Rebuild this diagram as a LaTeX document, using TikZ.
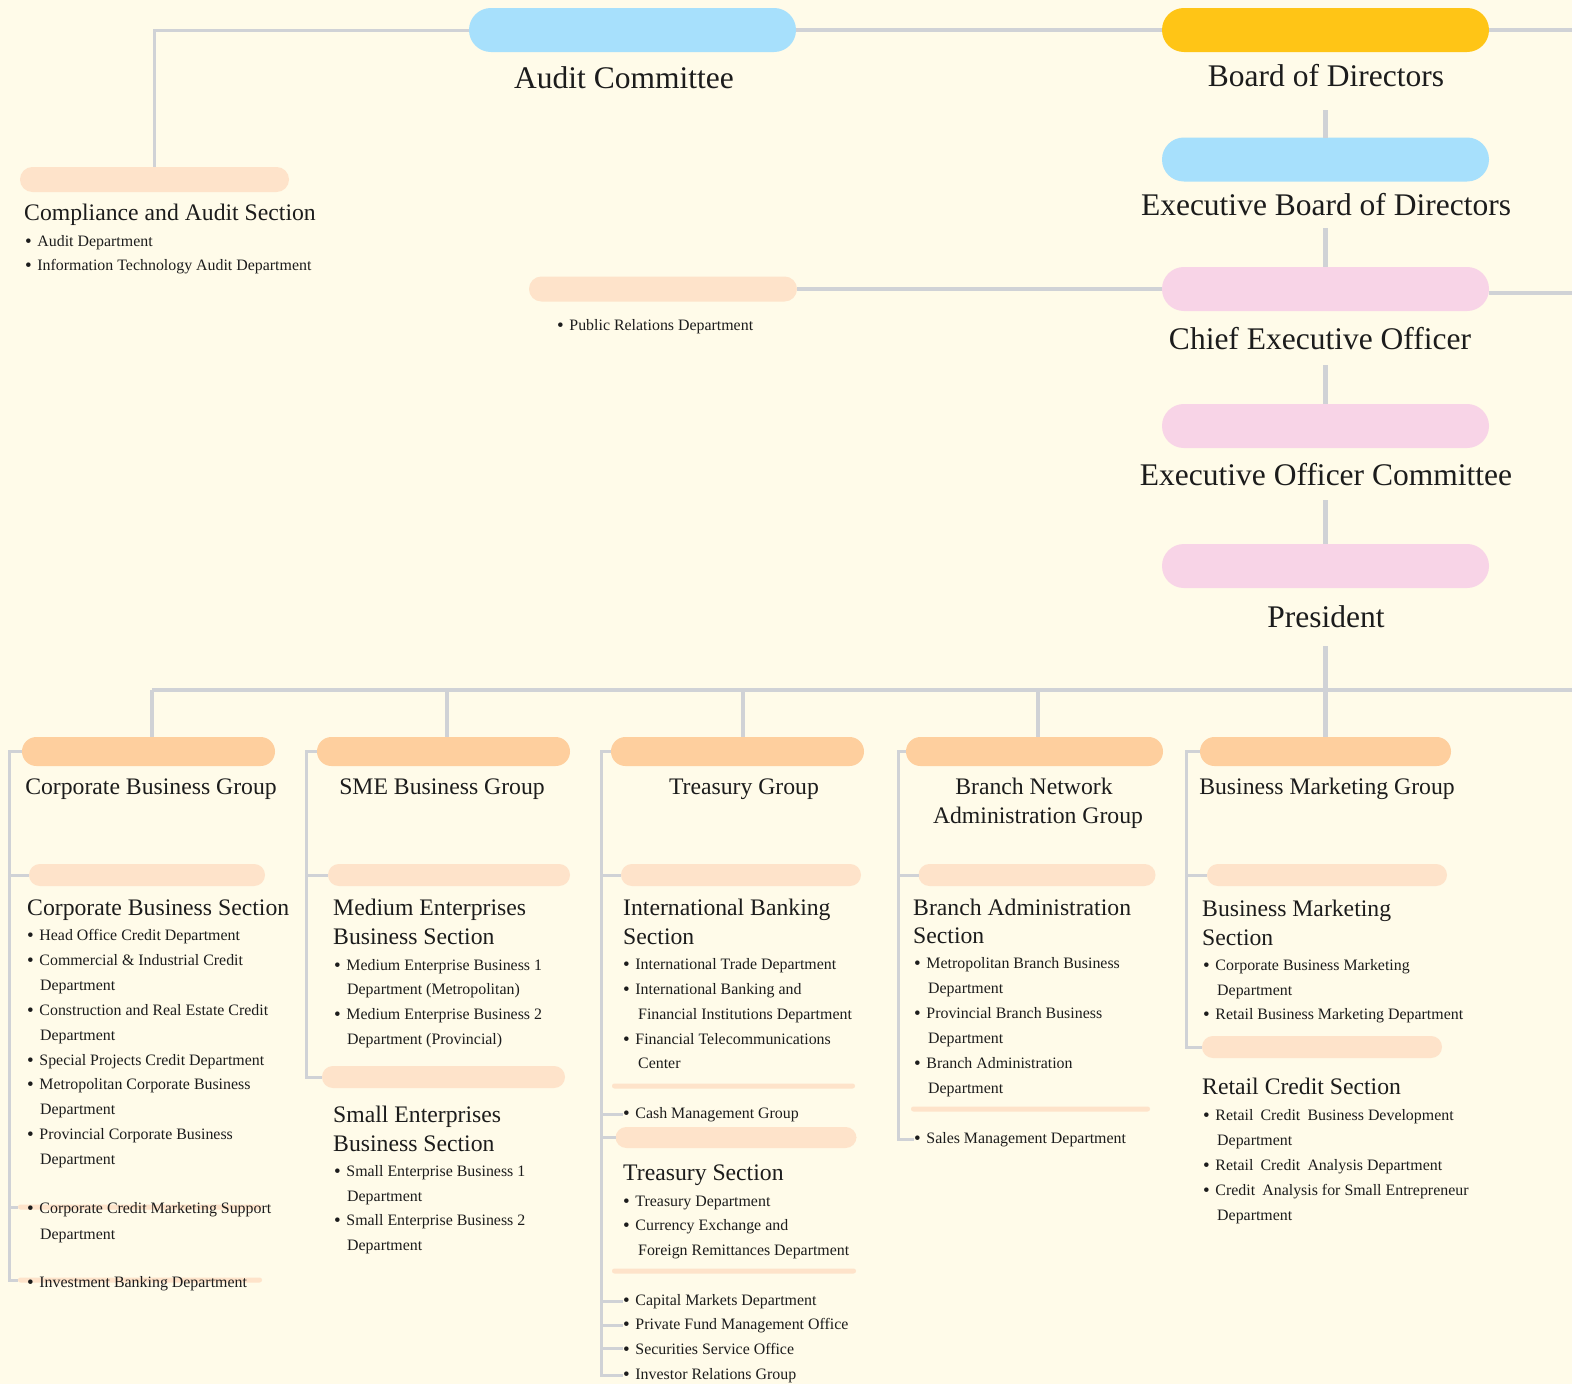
\documentclass[tikz,border=0pt]{standalone}
\usepackage{fontspec}
\setmainfont{Liberation Serif}
\usetikzlibrary{calc}
\definecolor{bg}{HTML}{FFFBE9}
\definecolor{lblue}{HTML}{A7E0FC}
\definecolor{amber}{HTML}{FFC516}
\definecolor{pink}{HTML}{F8D4E7}
\definecolor{grpc}{HTML}{FECF9E}
\definecolor{secc}{HTML}{FEE3CA}
\definecolor{lnc}{HTML}{D0D2D6}
\definecolor{ink}{HTML}{1C1C1C}
\newcommand\bu{\raisebox{-0.07em}{\scalebox{1.2}{\textbullet}}\hspace{0.35em}}
\newcommand\xs{\hspace{0.45em}}
\begin{document}
\begin{tikzpicture}[x=1pt,y=-1pt,
  pb/.style={inner sep=0pt,outer sep=0pt,draw=none},
  bigpill/.style={pb,minimum width=327pt,minimum height=44pt,rounded corners=21.9pt},
  grp/.style={pb,fill=grpc,minimum height=29pt,rounded corners=14.4pt},
  sec/.style={pb,fill=secc,minimum height=22pt,rounded corners=10.9pt},
  barx/.style={pb,fill=secc,minimum height=5pt,rounded corners=2.4pt},
  ttl/.style={inner sep=0pt,anchor=base,text=ink,font=\fontsize{31.5}{36}\selectfont},
  hd/.style={inner sep=0pt,text=ink,font=\fontsize{23.7}{29}\selectfont},
  itm/.style={inner sep=0pt,anchor=base west,text=ink,font=\fontsize{15.9}{25}\selectfont},
  main/.style={draw=lnc,line width=4.5pt},
  br/.style={draw=lnc,line width=3pt}]
\fill[bg] (0,0) rectangle (1572,1384);
\useasboundingbox (0,0) rectangle (1572,1384);

% ---------- top pills ----------
\node[bigpill,fill=lblue] (audit) at (632.5,30) {};
\node[bigpill,fill=amber] (bod) at (1325.5,30) {};
\node[bigpill,fill=lblue] (ebd) at (1325.5,159.5) {};
\node[bigpill,fill=pink] (ceo) at (1325.5,289) {};
\node[bigpill,fill=pink] (eoc) at (1325.5,426) {};
\node[bigpill,fill=pink] (pres) at (1325.5,566) {};
\node[sec,minimum width=269pt,minimum height=25pt,rounded corners=12.4pt] (comp) at (154.5,179.5) {};
\node[sec,minimum width=268pt,minimum height=25pt,rounded corners=12.4pt] (pr) at (663,289) {};

\node[ttl] (auditT) at (624,88) {Audit Committee};
\node[ttl] (bodT) at (1326,86.5) {Board of Directors};
\node[ttl] (ebdT) at (1326,215) {Executive Board of Directors};
\node[ttl] (ceoT) at (1320,349) {Chief Executive Officer};
\node[ttl] (eocT) at (1326,485) {Executive Officer Committee};
\node[ttl] (presT) at (1326,627) {President};

\node[hd,anchor=base west] (compT) at (24,220) {Compliance and Audit Section};
\node[itm] (comp1) at (25,246) {\bu Audit Department};
\node[itm] (comp2) at (25,270) {\bu Information Technology Audit Department};
\node[itm] (pr1) at (557,330) {\bu Public Relations Department};

% top connectors
\coordinate (bodR) at (1572,30);
\coordinate (ceoR) at (1572,293);
\coordinate (bodb) at (1325.5,110);
\coordinate (ebdb) at (1325.5,228);
\coordinate (ceob) at (1325.5,365);
\coordinate (eocb) at (1325.5,500);
\coordinate (presb) at (1325.5,646);
\coordinate (bus) at (1325.5,690);
\coordinate (busL) at (152,690);
\coordinate (busR) at (1572,690);
\draw[main] (audit.east) -- (bod.west);
\draw[main] (bod.east) -- (bodR);
\draw[br] (audit.west) -| (comp.north);
\draw[main] (pr.east) -- (ceo.west);
\draw[main] (ceo.east |- ceoR) -- (ceoR);
\draw[main] (bodb) -- (ebd.north);
\draw[main] (ebdb) -- (ceo.north);
\draw[main] (ceob) -- (eoc.north);
\draw[main] (eocb) -- (pres.north);
\draw[main] (presb) -- (bus);
\draw[main] (busL) -- (busR);

% ---------- group pills ----------
\node[grp,minimum width=253pt] (g1) at (148.5,751.5) {};
\node[grp,minimum width=253pt] (g2) at (443.5,751.5) {};
\node[grp,minimum width=253pt] (g3) at (737.5,751.5) {};
\node[grp,minimum width=257pt] (g4) at (1034.5,751.5) {};
\node[grp,minimum width=251pt] (g5) at (1325.5,751.5) {};
\coordinate (d1) at (152,690);
\coordinate (d2) at (447,690);
\coordinate (d3) at (743,690);
\coordinate (d4) at (1038,690);
\coordinate (d5) at (1325.5,690);
\foreach \d/\g in {d1/g1,d2/g2,d3/g3,d4/g4,d5/g5}
  \draw[main] (\d) -- (\d |- \g.north);

\node[hd,anchor=base] (g1T) at (151,794) {Corporate Business Group};
\node[hd,anchor=base] (g2T) at (442,794) {SME Business Group};
\node[hd,anchor=base] (g3T) at (744,794) {Treasury Group};
\node[hd,anchor=base] (g4Ta) at (1034,794) {Branch Network};
\node[hd,anchor=base] (g4Tb) at (1038,823) {Administration Group};
\node[hd,anchor=base] (g5T) at (1327,794) {Business Marketing Group};

% ---------- section pills and bars ----------
\node[sec,minimum width=236pt] (cbs) at (147,875) {};
\node[sec,minimum width=242pt] (mes) at (449,875) {};
\node[sec,minimum width=243pt] (ses) at (443.5,1077) {};
\node[sec,minimum width=240pt] (ibs) at (741,875) {};
\node[sec,minimum width=241pt,minimum height=21pt] (tss) at (736,1137.5) {};
\node[sec,minimum width=237pt] (bas) at (1037,875) {};
\node[sec,minimum width=240pt] (bms) at (1327,875) {};
\node[sec,minimum width=240pt] (rcs) at (1322,1047) {};
\node[barx,minimum width=243pt] (tb1) at (733.5,1086) {};
\node[barx,minimum width=244pt] (tb2) at (734,1271) {};
\node[barx,minimum width=239pt] (bb1) at (1030.5,1109) {};
\node[barx,minimum width=244pt] (cb1) at (140,1207) {};
\node[barx,minimum width=244pt] (cb2) at (140,1280) {};

% ---------- Corporate column ----------
\node[hd,anchor=base west] (cbsT) at (27,915) {Corporate Business Section};
\node[itm] (c1) at (27,940) {\bu Head Office Credit Department};
\node[itm] (c2) at (27,965) {\bu Commercial \& Industrial Credit};
\node[itm] (c2b) at (40,990) {Department};
\node[itm] (c3) at (27,1015) {\bu Construction and Real Estate Credit};
\node[itm] (c3b) at (40,1040) {Department};
\node[itm] (c4) at (27,1065) {\bu Special Projects Credit Department};
\node[itm] (c5) at (27,1089) {\bu Metropolitan Corporate Business};
\node[itm] (c5b) at (40,1114) {Department};
\node[itm] (c6) at (27,1139) {\bu Provincial Corporate Business};
\node[itm] (c6b) at (40,1164) {Department};
\node[itm] (c7) at (27,1213) {\bu Corporate Credit Marketing Support};
\node[itm] (c7b) at (40,1239) {Department};
\node[itm] (c8) at (27,1287) {\bu Investment Banking Department};
\coordinate (sC) at (9,751.5);
\draw[br] (g1.west) -- (sC) -- (sC |- cb2.west) -- (cb2.west);
\draw[br] (sC |- cbs.west) -- (cbs.west);
\draw[br] (sC |- cb1.west) -- (cb1.west);

% ---------- SME column ----------
\node[hd,anchor=base west] (mesT1) at (333,915) {Medium Enterprises};
\node[hd,anchor=base west] (mesT2) at (333,944) {Business Section};
\node[itm] (m1) at (334,970) {\bu Medium Enterprise Business 1};
\node[itm] (m1b) at (347,994) {Department (Metropolitan)};
\node[itm] (m2) at (334,1019) {\bu Medium Enterprise Business 2};
\node[itm] (m2b) at (347,1044) {Department (Provincial)};
\node[hd,anchor=base west] (sesT1) at (333,1122) {Small Enterprises};
\node[hd,anchor=base west] (sesT2) at (333,1151) {Business Section};
\node[itm] (s1) at (334,1176) {\bu Small Enterprise Business 1};
\node[itm] (s1b) at (347,1201) {Department};
\node[itm] (s2) at (334,1225) {\bu Small Enterprise Business 2};
\node[itm] (s2b) at (347,1250) {Department};
\coordinate (sS) at (306,751.5);
\draw[br] (g2.west) -- (sS) -- (sS |- ses.west) -- (ses.west);
\draw[br] (sS |- mes.west) -- (mes.west);

% ---------- Treasury column ----------
\node[hd,anchor=base west] (ibsT1) at (623,915) {International Banking};
\node[hd,anchor=base west] (ibsT2) at (623,944) {Section};
\node[itm] (t1) at (623,969) {\bu International Trade Department};
\node[itm] (t2) at (623,994) {\bu International Banking and};
\node[itm] (t2b) at (638,1019) {Financial Institutions Department};
\node[itm] (t3) at (623,1044) {\bu Financial Telecommunications};
\node[itm] (t3b) at (638,1068) {Center};
\node[itm] (t4) at (623,1118) {\bu Cash Management Group};
\node[hd,anchor=base west] (tssT) at (623,1180) {Treasury Section};
\node[itm] (t5) at (623,1206) {\bu Treasury Department};
\node[itm] (t6) at (623,1230) {\bu Currency Exchange and};
\node[itm] (t6b) at (638,1255) {Foreign Remittances Department};
\node[itm] (t7) at (623,1305) {\bu Capital Markets Department};
\node[itm] (t8) at (623,1329) {\bu Private Fund Management Office};
\node[itm] (t9) at (623,1354) {\bu Securities Service Office};
\node[itm] (t10) at (623,1379) {\bu Investor Relations Group};
\coordinate (sT) at (601,751.5);
\draw[br] (g3.west) -- (sT) -- (sT |- t10.west) -- (t10.west);
\foreach \n in {ibs,t4,tss,t7,t8,t9}
  \draw[br] (sT |- \n.west) -- (\n.west);

% ---------- Branch column ----------
\node[hd,anchor=base west] (basT1) at (913,915) {Branch Administration};
\node[hd,anchor=base west] (basT2) at (913,943) {Section};
\node[itm] (b1) at (914,968) {\bu Metropolitan Branch Business};
\node[itm] (b1b) at (928,993) {Department};
\node[itm] (b2) at (914,1018) {\bu Provincial Branch Business};
\node[itm] (b2b) at (928,1043) {Department};
\node[itm] (b3) at (914,1068) {\bu Branch Administration};
\node[itm] (b3b) at (928,1093) {Department};
\node[itm] (b4) at (914,1143) {\bu Sales Management Department};
\coordinate (sB) at (898,751.5);
\draw[br] (g4.west) -- (sB) -- (sB |- b4.west) -- (b4.west);
\draw[br] (sB |- bas.west) -- (bas.west);

% ---------- Business Marketing column ----------
\node[hd,anchor=base west] (bmsT1) at (1202,916) {Business Marketing};
\node[hd,anchor=base west] (bmsT2) at (1202,945) {Section};
\node[itm] (k1) at (1203,970) {\bu Corporate Business Marketing};
\node[itm] (k1b) at (1217,995) {Department};
\node[itm] (k2) at (1203,1019) {\bu Retail Business Marketing Department};
\node[hd,anchor=base west] (rcsT) at (1202,1094) {Retail Credit Section};
\node[itm] (r1) at (1203,1120) {\bu Retail\xs Credit\xs Business Development};
\node[itm] (r1b) at (1217,1145) {Department};
\node[itm] (r2) at (1203,1170) {\bu Retail\xs Credit\xs Analysis Department};
\node[itm] (r3) at (1203,1195) {\bu Credit\xs Analysis for Small Entrepreneur};
\node[itm] (r3b) at (1217,1220) {Department};
\coordinate (sM) at (1186,751.5);
\draw[br] (g5.west) -- (sM) -- (sM |- rcs.west) -- (rcs.west);
\draw[br] (sM |- bms.west) -- (bms.west);
\end{tikzpicture}
\end{document}
